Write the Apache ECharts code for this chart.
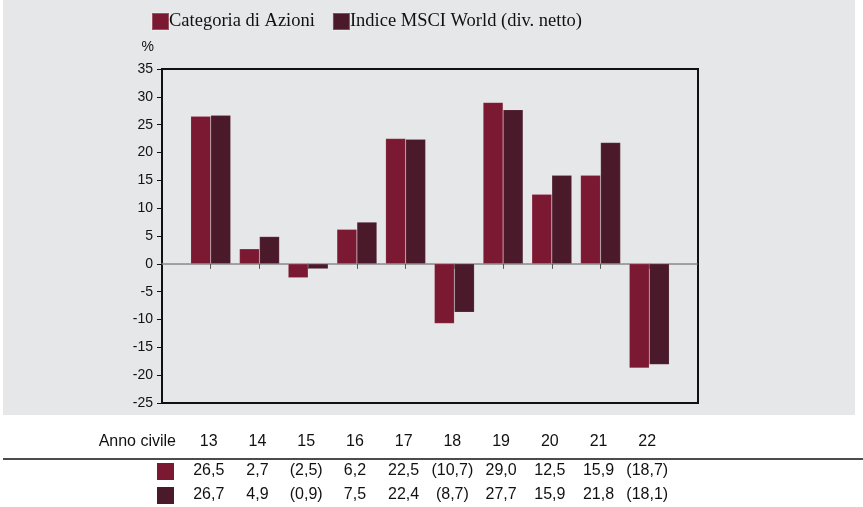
<!DOCTYPE html>
<html>
<head>
<meta charset="utf-8">
<script src="https://cdn.jsdelivr.net/npm/echarts@6/dist/echarts.min.js"></script>
<style>
  html, body { margin: 0; padding: 0; background: #fff; }
  #chart { width: 863px; height: 507px; }
</style>
</head>
<body>
<div id="chart"></div>
<script>
const years = [13, 14, 15, 16, 17, 18, 19, 20, 21, 22]
const seriesNames = ['Categoria di Azioni', 'Indice MSCI World (div. netto)']
const categoria = [26.5, 2.7, -2.5, 6.2, 22.5, -10.7, 29.0, 12.5, 15.9, -18.7]
const msci = [26.7, 4.9, -0.9, 7.5, 22.4, -8.7, 27.7, 15.9, 21.8, -18.1]
const colors = ['#7b1832', '#4a1a2b']

const fmt = (v) => {
  const s = Math.abs(v).toFixed(1).replace('.', ',')
  return v < 0 ? '(' + s + ')' : s
}

const chart = echarts.init(document.getElementById('chart'))

const font = 'Liberation Sans, Arial, sans-serif'

chart.setOption({
  backgroundColor: '#fff',
  animation: false,
  legend: {
    left: 146, top: 7,
    itemWidth: 17, itemHeight: 17, itemGap: 17,
    icon: 'rect',
    textStyle: { fontFamily: 'Liberation Serif, Times New Roman, serif', fontSize: 18.5, color: '#111', padding: [0, 0, 0, -5] },
    data: seriesNames
  },
  grid: {
    left: 162, right: 165, top: 69, bottom: 104,
    show: true, borderColor: '#111', borderWidth: 2, backgroundColor: 'transparent'
  },
  xAxis: {
    type: 'value', min: 12, max: 23, interval: 1,
    axisLine: { onZero: true, lineStyle: { color: '#888', type: [3, 1], width: 1.5 } },
    axisTick: { show: true, length: 5, lineStyle: { color: '#555' }, customValues: years },
    axisLabel: { show: false },
    splitLine: { show: false }
  },
  yAxis: {
    type: 'value', min: -25, max: 35, interval: 5,
    name: '%', nameLocation: 'end', nameGap: 15,
    nameTextStyle: { fontFamily: font, fontSize: 14, color: '#111', align: 'right', padding: [0, 8, 0, 0] },
    axisLine: { show: false },
    axisTick: { show: true, length: 5, lineStyle: { color: '#111' } },
    axisLabel: { fontFamily: font, fontSize: 14, color: '#111', margin: 9 },
    splitLine: { show: false }
  },
  series: [
    {
      name: seriesNames[0], type: 'bar', barWidth: 20, barGap: '0%',
      itemStyle: { color: colors[0], borderColor: 'rgba(255,255,255,0.25)', borderWidth: 0.5 },
      data: years.map((y, i) => [y, categoria[i]])
    },
    {
      name: seriesNames[1], type: 'bar', barWidth: 20, barGap: '0%',
      itemStyle: { color: colors[1], borderColor: 'rgba(255,255,255,0.25)', borderWidth: 0.5 },
      data: years.map((y, i) => [y, msci[i]])
    }
  ]
})

// gray panel behind the chart, table below it
const g = []
g.push({
  type: 'rect', z: -10, silent: true,
  shape: { x: 3, y: 0, width: 852, height: 415 },
  style: { fill: '#e6e7e9' }
})
g.push({
  type: 'line', silent: true,
  shape: { x1: 3, y1: 459, x2: 863, y2: 459 },
  style: { stroke: '#111', lineWidth: 1.5 }
})
g.push({
  type: 'text', x: 176, y: 442,
  style: { text: 'Anno civile', font: '16px ' + font, fill: '#111', align: 'right', verticalAlign: 'middle' }
})
const rows = [categoria, msci]
rows.forEach((vals, r) => {
  const yy = 471 + r * 24
  g.push({
    type: 'rect', silent: true,
    shape: { x: 157, y: yy - 8, width: 17, height: 17 },
    style: { fill: colors[r] }
  })
  vals.forEach((v, i) => {
    const x = chart.convertToPixel({ xAxisIndex: 0 }, years[i]) - 2
    g.push({
      type: 'text', x: x, y: yy,
      style: { text: fmt(v), font: '16px ' + font, fill: '#111', align: 'center', verticalAlign: 'middle' }
    })
  })
})
years.forEach((y) => {
  const x = chart.convertToPixel({ xAxisIndex: 0 }, y) - 2
  g.push({
    type: 'text', x: x, y: 442,
    style: { text: String(y), font: '16px ' + font, fill: '#111', align: 'center', verticalAlign: 'middle' }
  })
})
chart.setOption({ graphic: g })
</script>
</body>
</html>
